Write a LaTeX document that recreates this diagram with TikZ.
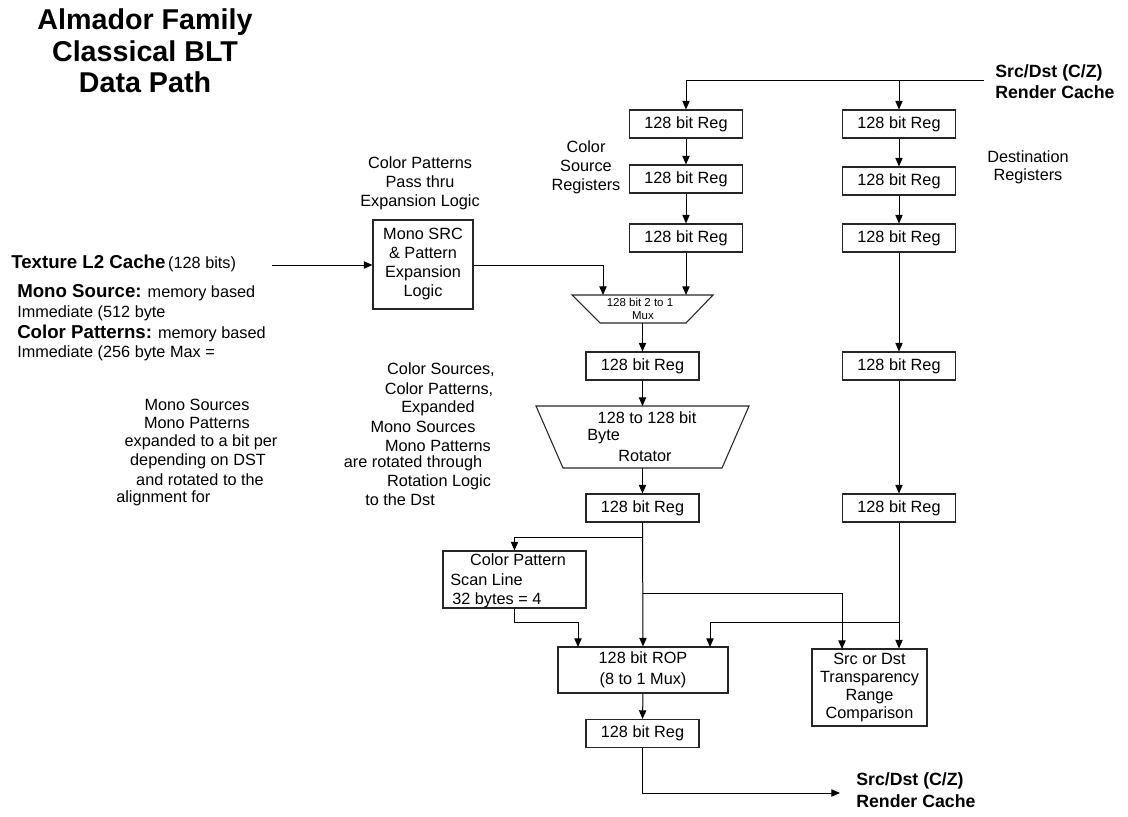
\documentclass[tikz,border=0pt]{standalone}
\usepackage{fontspec}
\setmainfont{Liberation Sans}
\usetikzlibrary{arrows.meta}
\newcommand{\fnorm}{\fontsize{12.2pt}{14pt}\selectfont}
\newcommand{\fbld}{\fontsize{14pt}{16pt}\selectfont\bfseries}
\newcommand{\ftitle}{\fontsize{21.5pt}{23.5pt}\selectfont\bfseries}
\newcommand{\fcache}{\fontsize{13.3pt}{16pt}\selectfont\bfseries}
\newcommand{\fsmall}{\fontsize{8.6pt}{10pt}\selectfont}
\tikzset{
  boxline/.style={draw=black!85, line width=0.8pt},
  box/.style={boxline, inner sep=0pt, align=center, font=\fnorm},
  regbox/.style={box, minimum width=84.75pt, minimum height=21pt},
  ln/.style={line width=0.75pt, draw=black},
  arr/.style={ln, -{Triangle[length=6.5pt,width=5.5pt]}},
  txt/.style={inner sep=0pt, font=\fnorm},
  ctxt/.style={txt, align=center}
}
\begin{document}
\begin{tikzpicture}[x=0.75pt,y=-0.75pt]
\useasboundingbox (0,0) rectangle (1128,817);

% title
\node[ctxt, font=\ftitle] (title) at (145,51) {Almador Family\\Classical BLT\\Data Path};

% top cache label
\node[txt, font=\fcache, anchor=west, align=left] (cacheTop) at (995,81.5) {Src/Dst (C/Z)\\Render Cache};

% register columns
\node[regbox] (L1) at (686,124) {128 bit Reg};
\node[regbox] (L2) at (686,179) {128 bit Reg};
\node[regbox] (L3) at (686,238) {128 bit Reg};
\node[regbox] (R1) at (899,124) {128 bit Reg};
\node[regbox] (R2) at (899,181) {128 bit Reg};
\node[regbox] (R3) at (899,238) {128 bit Reg};
\node[regbox] (R4) at (899,366) {128 bit Reg};
\node[regbox] (R5) at (899,508) {128 bit Reg};
\node[regbox] (M1) at (642.5,366) {128 bit Reg};
\node[regbox] (M2) at (642.5,508) {128 bit Reg};
\node[regbox] (M3) at (642.5,733.5) {128 bit Reg};

\node[ctxt, font={\fontsize{12.2pt}{14.25pt}\selectfont}] (csr) at (586,167) {Color\\Source\\Registers};
\node[ctxt, font={\fontsize{12.2pt}{13.5pt}\selectfont}] (dstr) at (1028,167) {Destination\\Registers};

% mono expansion box
\node[box, minimum width=75pt, minimum height=66.75pt, font={\fontsize{12.2pt}{14.25pt}\selectfont}] (Mono) at (423,264.5) {Mono SRC\\\& Pattern\\Expansion\\Logic};
\node[ctxt, font={\fontsize{12.2pt}{14.25pt}\selectfont}] (cpl) at (420,183) {Color Patterns\\Pass thru\\Expansion Logic};

% left texts
\node[txt, anchor=west] (tex) at (11,263) {{\fbld Texture L2 Cache}\,(128 bits)};
\node[txt, anchor=west] (monoS) at (17,293) {{\fbld Mono Source:} memory based};
\node[txt, anchor=west] (imm1) at (17,313) {Immediate (512 byte};
\node[txt, anchor=west] (colP) at (17,333) {{\fbld Color Patterns:} memory based};
\node[txt, anchor=west] (imm2) at (17,353) {Immediate (256 byte Max =};

\node[txt] (ms1) at (197,405) {Mono Sources};
\node[txt] (ms2) at (197,423) {Mono Patterns};
\node[txt] (ms3) at (201,442) {expanded to a bit per};
\node[txt] (ms4) at (198,461) {depending on DST};
\node[txt] (ms5) at (200,480) {and rotated to the};
\node[txt, anchor=west] (ms6) at (116,498) {alignment for};

\node[txt] (cs1) at (441,370) {Color Sources,};
\node[txt] (cs2) at (439,390) {Color Patterns,};
\node[txt] (cs3) at (438,408) {Expanded};
\node[txt] (cs4) at (423,427) {Mono Sources};
\node[txt] (cs5) at (438,446) {Mono Patterns};
\node[txt] (cs6) at (413,463) {are rotated through};
\node[txt] (cs7) at (439,482) {Rotation Logic};
\node[txt, anchor=west] (cs8) at (365,500) {to the Dst};

% mux trapezoid
\draw[boxline] (572,295) -- (713,295) -- (686,323) -- (600,323) -- cycle;
\node[txt, font=\fsmall] (muxT1) at (640,302) {128 bit 2 to 1};
\node[txt, font=\fsmall] (muxT2) at (643,316) {Mux};
\coordinate (muxInL) at (603,295);
\coordinate (muxInR) at (686,295);
\coordinate (muxOut) at (642.5,323);

% rotator trapezoid
\draw[boxline] (536,406) -- (749,406) -- (722,468) -- (563,468) -- cycle;
\node[txt] (rotT1) at (647,418) {128 to 128 bit};
\node[txt, anchor=west] (rotT2) at (587,437) {Byte};
\node[txt, anchor=west] (rotT3) at (618,456) {Rotator};
\coordinate (rotIn) at (642.5,406);
\coordinate (rotOut) at (642.5,468);

% lower boxes
\node[box, minimum width=107.25pt, minimum height=42.75pt] (CP) at (514.5,579.5) {};
\node[txt] (cpt1) at (518,560) {Color Pattern};
\node[txt, anchor=west] (cpt2) at (450,580) {Scan Line};
\node[txt, anchor=west] (cpt3) at (452,600) {32 bytes = 4};

\node[box, minimum width=127.5pt, minimum height=34.5pt, font={\fontsize{12.2pt}{15.75pt}\selectfont}] (ROP) at (643,670) {128 bit ROP\\(8 to 1 Mux)};
\node[box, minimum width=86.25pt, minimum height=57.75pt, font={\fontsize{12.2pt}{13.5pt}\selectfont}] (Src) at (869.5,687.5) {Src or Dst\\Transparency\\Range\\Comparison};

\node[txt, font=\fcache, anchor=west, align=left] (cacheBot) at (856,790) {Src/Dst (C/Z)\\Render Cache};

% connectors
\coordinate (busR) at (984,81);
\coordinate (busM) at (899,81);
\draw[arr] (busR) -| (L1.north);
\draw[arr] (busM) -- (R1.north);
\draw[arr] (L1) -- (L2);
\draw[arr] (L2) -- (L3);
\draw[arr] (R1) -- (R2);
\draw[arr] (R2) -- (R3);
\draw[arr] (R3) -- (R4);
\draw[arr] (R4) -- (R5);

\coordinate (texStart) at (272,265);
\draw[arr] (texStart) -- (Mono.west |- texStart);
\draw[arr] (Mono.east |- texStart) -| (muxInL);
\draw[arr] (L3.south) -- (muxInR);
\draw[arr] (muxOut) -- (M1.north);
\draw[arr] (M1.south) -- (rotIn);
\draw[arr] (rotOut) -- (M2.north);
\draw[arr] (M2.south) -- (ROP.north);

\coordinate (j1) at (642.5,537);
\coordinate (j2) at (642.5,593);
\coordinate (j3) at (899,622);
\coordinate (cpTurn) at (514.5,622);
\coordinate (ropIn1) at (578,647);
\coordinate (ropIn3) at (710,647);
\coordinate (srcIn1) at (842,649);
\coordinate (outEnd) at (840,793);

\draw[arr] (j1) -| (CP.north);
\draw[arr] (j2) -| (srcIn1);
\draw[arr] (R5.south) -- (R5.south |- Src.north);
\draw[arr] (j3) -| (ropIn3);
\draw[arr] (CP.south) -- (cpTurn) -| (ropIn1);
\draw[arr] (ROP.south) -- (M3.north);
\draw[arr] (M3.south) |- (outEnd);
\end{tikzpicture}
\end{document}
